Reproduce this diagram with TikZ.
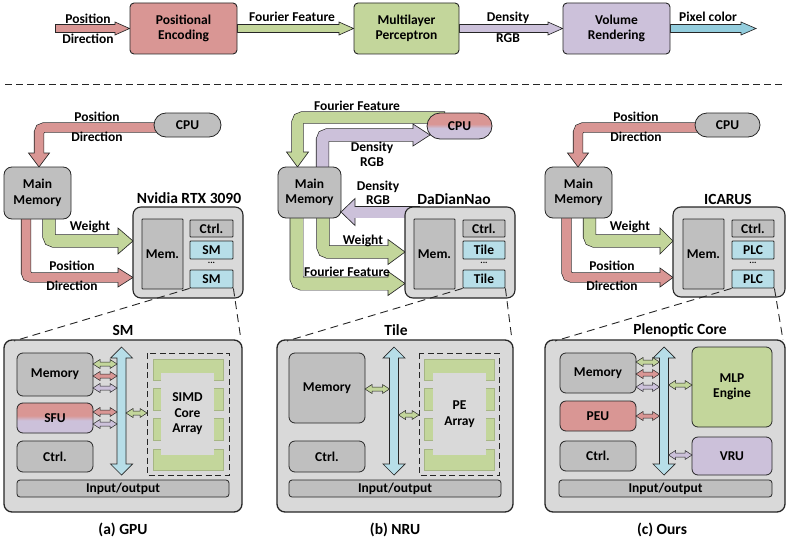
\documentclass[tikz,border=0pt]{standalone}
\usepackage{fontspec}
\setmainfont{Carlito}
\usetikzlibrary{calc}
\pgfdeclarelayer{bg}
\pgfsetlayers{bg,main}
\definecolor{bordc}{HTML}{262626}
\definecolor{redf}{HTML}{D99694}
\definecolor{greenf}{HTML}{C3D69B}
\definecolor{purpf}{HTML}{CCC1DA}
\definecolor{bluef}{HTML}{B7DEE8}
\definecolor{cyanf}{HTML}{93CDDD}
\definecolor{grayf}{HTML}{BFBFBF}
\definecolor{lgrayf}{HTML}{D9D9D9}
\pgfdeclareverticalshading{redpurple}{100bp}{color(0bp)=(purpf); color(46bp)=(purpf); color(54bp)=(redf); color(100bp)=(redf)}
% box from corners: name, x1, y1, x2, y2, style, text
\newcommand\mkbox[7]{\node[#6, minimum width={#4-#2}, minimum height={#5-#3}] (#1) at ({(#2+#4)/2},{(#3+#5)/2}) {#7};}
% fat arrow: fill, body width, head half width, path to head base, base, tip
\newcommand\fatarr[6]{%
 \draw[draw=bordc, line width={#2+1.3pt}, rounded corners=5pt] #4;
 \filldraw[fill=#1, draw=bordc, line width=0.65pt, line join=miter] ($(#5)!#3!90:(#6)$) -- (#6) -- ($(#5)!#3!-90:(#6)$) -- cycle;
 \draw[draw=#1, line width=#2, rounded corners=5pt, shorten <=0.65pt] #4 -- ($(#5)!1.5pt!(#6)$);
}
% vertical bus double arrow: x, ytop, ybottom
\newcommand\busarr[3]{\filldraw[fill=bluef, draw=bordc, line width=0.7pt] (#1,#2) -- ({#1+11},{#2+11}) -- ({#1+4.5},{#2+11}) -- ({#1+4.5},{#3-11}) -- ({#1+11},{#3-11}) -- (#1,#3) -- ({#1-11},{#3-11}) -- ({#1-4.5},{#3-11}) -- ({#1-4.5},{#2+11}) -- ({#1-11},{#2+11}) -- cycle;}
% small horizontal double arrow: fill, x1, x2, y
\newcommand\dblarr[4]{\filldraw[fill=#1, draw=bordc, line width=0.5pt] (#2,#4) -- ({#2+7},{#4-4.5}) -- ({#2+7},{#4-2}) -- ({#3-7},{#4-2}) -- ({#3-7},{#4-4.5}) -- (#3,#4) -- ({#3-7},{#4+4.5}) -- ({#3-7},{#4+2}) -- ({#2+7},{#4+2}) -- ({#2+7},{#4+4.5}) -- cycle;}
\begin{document}
\begin{tikzpicture}[x=1pt,y=-1pt,font=\bfseries\fontsize{13.5}{15.5}\selectfont,
 topbox/.style={draw=bordc,line width=0.9pt,rounded corners=4pt,align=center,inner sep=0pt},
 gbox/.style={draw=bordc,fill=grayf,line width=0.8pt,rounded corners=6pt,align=center,inner sep=0pt},
 tilebox/.style={draw=bordc,line width=0.8pt,rounded corners=0.8pt,align=center,inner sep=0pt},
 panelbox/.style={draw=bordc,fill=lgrayf,line width=1.3pt,rounded corners=8pt,inner sep=0pt},
 ttl/.style={font=\bfseries\fontsize{15.5}{17}\selectfont,inner sep=0pt},
 lbl/.style={inner sep=0pt},
 zoomline/.style={draw=bordc,line width=0.9pt,dash pattern=on 8pt off 5pt},
 sepline/.style={draw=bordc,line width=0.9pt,dash pattern=on 7pt off 4pt},
 grbar/.style={fill=greenf,draw=greenf!85!black,line width=0.3pt},
 dotsl/.style={font=\bfseries\fontsize{9}{9}\selectfont,inner sep=0pt}]
\useasboundingbox (0,0) rectangle (789,543);

% ---------------- top row ----------------
\mkbox{pe}{130}{3}{237}{54}{topbox,fill=redf}{Positional\\Encoding}
\mkbox{mlp}{354}{3}{459}{54}{topbox,fill=greenf}{Multilayer\\Perceptron}
\mkbox{vr}{563}{3}{670}{54}{topbox,fill=purpf}{Volume\\Rendering}
\begin{pgfonlayer}{bg}
\fatarr{redf}{7pt}{6.5pt}{(55,28.5) -- (115,28.5)}{115,28.5}{pe.west}
\fatarr{greenf}{7pt}{6.5pt}{(pe.east) -- (339,28.5)}{339,28.5}{mlp.west}
\fatarr{purpf}{7pt}{6.5pt}{(mlp.east) -- (548,28.5)}{548,28.5}{vr.west}
\fatarr{cyanf}{7pt}{6.5pt}{(vr.east) -- (741,28.5)}{741,28.5}{756,28.5}
\end{pgfonlayer}
\node[lbl] (l1) at (88,19) {Position};
\node[lbl] (l2) at (88,39) {Direction};
\node[lbl] (l3) at (292,17) {Fourier Feature};
\node[lbl] (l4) at (508,18) {Density};
\node[lbl] (l5) at (508,38) {RGB};
\node[lbl] (l6) at (708,17) {Pixel color};

\coordinate (sepL) at (5,84);
\coordinate (sepR) at (785,84);
\draw[sepline] (sepL) -- (sepR);

% ---------------- (a) GPU upper ----------------
\node[gbox,rounded corners=12pt,minimum width=67,minimum height=24] (cpuA) at (187.5,125) {CPU};
\mkbox{mmA}{4}{167}{71}{219}{gbox,rounded corners=8pt}{Main\\Memory}
\node[ttl] (tA) at (189,198) {Nvidia RTX 3090};
\mkbox{gpu}{133}{207}{243}{298}{panelbox,line width=1.1pt}{}
\mkbox{memA}{142}{219}{183}{289}{tilebox,fill=grayf}{Mem.}
\mkbox{ctrlA}{190}{220}{233}{237}{tilebox,fill=grayf}{Ctrl.}
\mkbox{smA}{190}{241}{233}{259}{tilebox,fill=bluef}{SM}
\node[dotsl] (dA) at (211.5,263) {...};
\mkbox{smB}{190}{270}{233}{288}{tilebox,fill=bluef}{SM}
\begin{pgfonlayer}{bg}
\fatarr{redf}{9pt}{10.5pt}{(180,127.5) -- (39,127.5) -- (39,153)}{39,153}{39,167}
\fatarr{greenf}{12pt}{13pt}{(49,210) -- (49,241) -- (118,241)}{118,241}{133,241}
\fatarr{redf}{9pt}{9.5pt}{(26,210) -- (26,277.5) -- (118,277.5)}{118,277.5}{133,277.5}
\end{pgfonlayer}
\node[lbl] at (97,117) {Position};
\node[lbl] at (97,137) {Direction};
\node[lbl] at (90,227) {Weight};
\node[lbl] at (72,266) {Position};
\node[lbl] at (72,286) {Direction};

% ---------------- (b) NRU upper ----------------
\node[draw=bordc,line width=0.8pt,rounded corners=13pt,shade,shading=redpurple,minimum width=65,minimum height=26,inner sep=0pt] (cpuB) at (459.5,126) {CPU};
\mkbox{mmB}{278}{167}{341}{218}{gbox,rounded corners=8pt}{Main\\Memory}
\node[ttl] (tB) at (454,199) {DaDianNao};
\mkbox{ddn}{405}{207}{515}{298}{panelbox,line width=1.1pt}{}
\mkbox{memB}{414}{219}{455}{289}{tilebox,fill=grayf}{Mem.}
\mkbox{ctrlB}{463}{220}{505}{237}{tilebox,fill=grayf}{Ctrl.}
\mkbox{tiA}{463}{241}{505}{259}{tilebox,fill=bluef}{Tile}
\node[dotsl] (dB) at (484,263) {...};
\mkbox{tiB}{463}{270}{505}{288}{tilebox,fill=bluef}{Tile}
\begin{pgfonlayer}{bg}
\fatarr{greenf}{11pt}{11pt}{(445,117.5) -- (297.5,117.5) -- (297.5,152)}{297.5,152}{297.5,167}
\fatarr{purpf}{12pt}{11pt}{(322.5,180) -- (322.5,135) -- (413,135)}{413,135}{430,135}
\fatarr{purpf}{11pt}{13.5pt}{(420,212) -- (355,212)}{355,212}{341,212}
\fatarr{greenf}{12pt}{12.5pt}{(323,210) -- (323,252) -- (388,252)}{388,252}{405,252}
\fatarr{greenf}{12.5pt}{12pt}{(296.5,210) -- (296.5,283.5) -- (388,283.5)}{388,283.5}{405,283.5}
\end{pgfonlayer}
\node[lbl] at (357,106) {Fourier Feature};
\node[lbl] at (372,148) {Density};
\node[lbl] at (372,162) {RGB};
\node[lbl] at (378,187) {Density};
\node[lbl] at (378,200) {RGB};
\node[lbl] at (363,241) {Weight};
\node[lbl] at (347,272) {Fourier Feature};

% ---------------- (c) Ours upper ----------------
\node[gbox,rounded corners=12pt,minimum width=65,minimum height=24] (cpuC) at (727.5,125) {CPU};
\mkbox{mmC}{545}{167}{612}{218}{gbox,rounded corners=8pt}{Main\\Memory}
\node[ttl] (tC) at (728,199) {ICARUS};
\mkbox{ica}{673}{207}{785}{297}{panelbox,line width=1.1pt}{}
\mkbox{memC}{683}{219}{724}{289}{tilebox,fill=grayf}{Mem.}
\mkbox{ctrlC}{732}{220}{774}{237}{tilebox,fill=grayf}{Ctrl.}
\mkbox{plA}{732}{241}{774}{259}{tilebox,fill=bluef}{PLC}
\node[dotsl] (dC) at (753,263) {...};
\mkbox{plB}{732}{270}{774}{288}{tilebox,fill=bluef}{PLC}
\begin{pgfonlayer}{bg}
\fatarr{redf}{9pt}{10.5pt}{(720,127.5) -- (578,127.5) -- (578,153)}{578,153}{578,167}
\fatarr{greenf}{12pt}{13pt}{(589.5,210) -- (589.5,241) -- (660,241)}{660,241}{673,241}
\fatarr{redf}{9pt}{9.5pt}{(566.5,210) -- (566.5,277.5) -- (660,277.5)}{660,277.5}{673,277.5}
\end{pgfonlayer}
\node[lbl] at (636,117) {Position};
\node[lbl] at (636,137) {Direction};
\node[lbl] at (630,227) {Weight};
\node[lbl] at (612,266) {Position};
\node[lbl] at (612,286) {Direction};

% ---------------- (a) SM panel ----------------
\mkbox{pA}{4}{340}{242}{512}{panelbox}{}
\node[ttl] at (123,330) {SM};
\mkbox{amem}{17}{353}{93}{396}{gbox}{Memory}
\mkbox{asfu}{17}{403}{93}{433}{gbox,shade,shading=redpurple}{SFU}
\mkbox{actl}{17}{441}{93}{472}{gbox}{Ctrl.}
\mkbox{aio}{17}{480}{229}{497}{gbox,rounded corners=3pt}{Input/output}
\draw[draw=bordc,line width=0.9pt,dash pattern=on 6pt off 3.5pt] (147,353) rectangle (229,475);
\draw[grbar] (153,359) rectangle (223,380);
\draw[grbar] (153,388) rectangle (223,410);
\draw[grbar] (153,418) rectangle (223,440);
\draw[grbar] (153,449) rectangle (223,470);
\fill[lgrayf] (161,373) rectangle (214,455);
\node[align=center,inner sep=0pt] (simd) at (187.5,414) {SIMD\\Core\\Array};
\busarr{121.5}{347}{475}
\dblarr{greenf}{93}{117}{364}
\dblarr{redf}{93}{117}{376}
\dblarr{purpf}{93}{117}{388}
\dblarr{redf}{93}{117}{412}
\dblarr{purpf}{93}{117}{424}
\dblarr{greenf}{126}{147}{413}
\node[ttl] at (123,530) {(a) GPU};

% ---------------- (b) Tile panel ----------------
\mkbox{pB}{277}{340}{513}{512}{panelbox}{}
\node[ttl] at (396,330) {Tile};
\mkbox{bmem}{289}{353}{365}{423}{gbox}{Memory}
\mkbox{bctl}{289}{441}{365}{472}{gbox}{Ctrl.}
\mkbox{bio}{289}{480}{501}{497}{gbox,rounded corners=3pt}{Input/output}
\draw[draw=bordc,line width=0.9pt,dash pattern=on 6pt off 3.5pt] (419,353) rectangle (499,475);
\draw[grbar] (424,359) rectangle (494,380);
\draw[grbar] (424,388) rectangle (494,410);
\draw[grbar] (424,418) rectangle (494,440);
\draw[grbar] (424,449) rectangle (494,470);
\fill[lgrayf] (433,373) rectangle (486,455);
\node[align=center,inner sep=0pt] (pea) at (459.5,414) {PE\\Array};
\busarr{394}{347}{475}
\dblarr{greenf}{365}{389.5}{389}
\dblarr{greenf}{398.5}{419}{415}
\node[ttl] at (395,530) {(b) NRU};

% ---------------- (c) Plenoptic Core panel ----------------
\mkbox{pC}{545}{340}{785}{512}{panelbox}{}
\node[ttl] at (680,330) {Plenoptic Core};
\mkbox{cmem}{560}{353}{636}{393}{gbox}{Memory}
\mkbox{cpeu}{560}{401}{636}{431}{gbox,fill=redf}{PEU}
\mkbox{cctl}{560}{441}{636}{471}{gbox}{Ctrl.}
\mkbox{cio}{559}{480}{772}{497}{gbox,rounded corners=3pt}{Input/output}
\mkbox{cmlp}{692}{347}{772}{427}{gbox,fill=greenf}{MLP\\Engine}
\mkbox{cvru}{692}{437}{772}{475}{gbox,fill=purpf}{VRU}
\busarr{664}{347}{475}
\dblarr{greenf}{636}{659.5}{362}
\dblarr{redf}{636}{659.5}{374}
\dblarr{purpf}{636}{659.5}{387}
\dblarr{redf}{636}{659.5}{416}
\dblarr{greenf}{668.5}{692}{385}
\dblarr{purpf}{668.5}{692}{455}
\node[ttl] at (662,530) {(c) Ours};

% ---------------- zoom lines ----------------
\draw[zoomline] (smB.south west) -- (14,341);
\draw[zoomline] (smB.south east) -- (241,340);
\draw[zoomline] (tiB.south west) -- (287,341);
\draw[zoomline] (tiB.south east) -- (512,340);
\draw[zoomline] (plB.south west) -- (555,341);
\draw[zoomline] (plB.south east) -- (783,340);
\end{tikzpicture}
\end{document}
